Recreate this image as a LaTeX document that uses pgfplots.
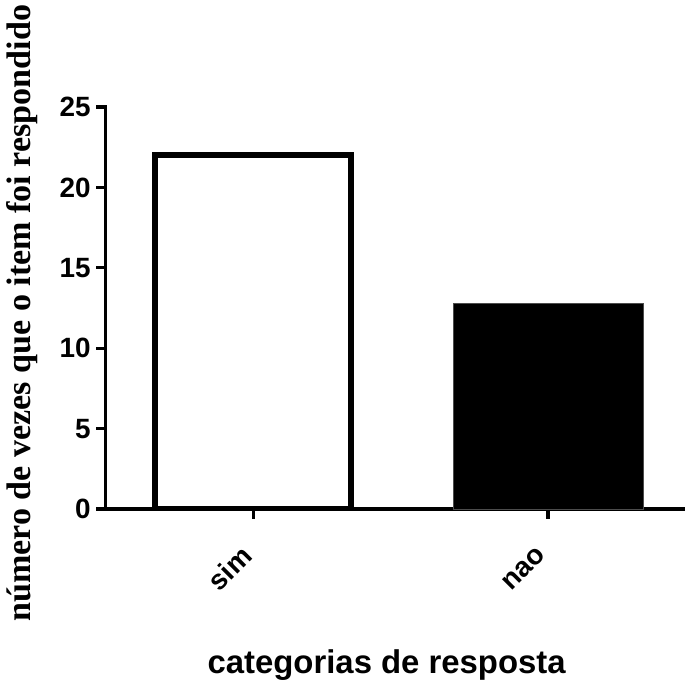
\documentclass[border=0pt]{standalone}
\usepackage{fontspec}
\setmainfont{Liberation Serif}
\newfontfamily\arialb{Liberation Sans}
\usepackage{pgfplots}
\pgfplotsset{compat=1.18}
\begin{document}
\begin{tikzpicture}
\begin{axis}[
  scale only axis,
  width=579.3bp, height=402bp,
  xmin=-0.5, xmax=1.464,
  ymin=0, ymax=25,
  axis x line*=bottom, axis y line*=left,
  axis line style={line width=3.3bp, line cap=rect},
  tick style={line width=3.3bp, black},
  tick align=outside,
  major tick length=9.5bp,
  xtick={0,1}, xticklabels={sim,nao},
  ytick={0,5,10,15,20,25},
  /pgf/number format/assume math mode=true,
  ticklabel style={font=\arialb\bfseries\fontsize{28}{30}\selectfont},
  xticklabel style={xshift=-4bp, yshift=-30bp, rotate=45, anchor=east},
  yticklabel style={xshift=-2bp},
  xlabel={categorias de resposta},
  ylabel={número de vezes que o item foi respondido},
  xlabel style={font=\arialb\bfseries\fontsize{33}{36}\selectfont, at={(axis description cs:0.485,-0.408)}, anchor=base},
  ylabel style={font=\bfseries\fontsize{34.2}{36}\selectfont, at={(axis description cs:-0.1445,0.487)}, anchor=center, rotate=0},
]
\addplot[ybar, bar shift=0pt, bar width=196bp, draw=black, line width=5.5bp, fill=white] coordinates {(0,22)};
\addplot[ybar, bar shift=0pt, bar width=190bp, draw=black!70, line width=0.8bp, fill=black] coordinates {(1,12.8)};
\end{axis}
\pgfresetboundingbox
\path[use as bounding box] (-105.7bp,-172bp) rectangle (579.3bp,509bp);
\end{tikzpicture}
\end{document}
